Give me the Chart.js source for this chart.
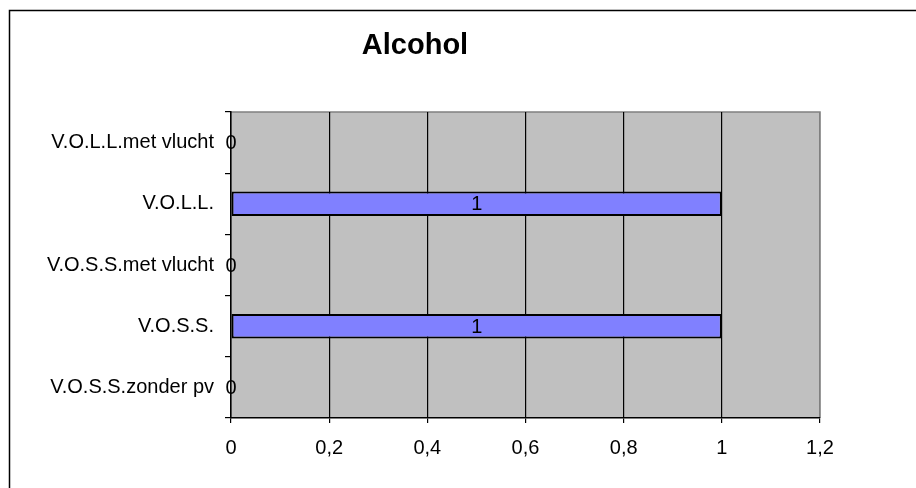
<!DOCTYPE html>
<html>
<head>
<meta charset="utf-8">
<script src="https://cdn.jsdelivr.net/npm/chart.js@4"></script>
<style>
html,body{margin:0;padding:0;background:#fff;}
#wrap{width:916px;height:488px;position:relative;}
</style>
</head>
<body>
<div id="wrap"><canvas id="c" width="916" height="488"></canvas></div>
<script>
const titleText = 'Alcohol';
const categories = ['V.O.L.L.met vlucht', 'V.O.L.L.', 'V.O.S.S.met vlucht', 'V.O.S.S.', 'V.O.S.S.zonder pv'];
const values = [0, 1, 0, 1, 0];
const xTickLabels = ['0', '0,2', '0,4', '0,6', '0,8', '1', '1,2'];

const FONT = '"Liberation Sans", Arial, sans-serif';

const decor = {
  id: 'decor',
  beforeDraw(chart) {
    const {ctx, width, height} = chart;
    const {left, top, right, bottom} = chart.chartArea;
    ctx.save();
    ctx.fillStyle = '#fff';
    ctx.fillRect(0, 0, width, height);
    ctx.fillStyle = '#C0C0C0';
    ctx.fillRect(left, top, right - left, bottom - top);
    ctx.strokeStyle = '#808080';
    ctx.lineWidth = 1.5;
    ctx.beginPath();
    ctx.moveTo(left, top);
    ctx.lineTo(right, top);
    ctx.lineTo(right, bottom);
    ctx.stroke();
    // outer frame (top and left edges visible)
    ctx.strokeStyle = '#000';
    ctx.lineWidth = 1.5;
    ctx.beginPath();
    ctx.moveTo(9.5, height);
    ctx.lineTo(9.5, 10.5);
    ctx.lineTo(width, 10.5);
    ctx.stroke();
    // title
    ctx.fillStyle = '#000';
    ctx.font = 'bold 29px ' + FONT;
    ctx.textAlign = 'center';
    ctx.textBaseline = 'alphabetic';
    ctx.fillText(titleText, 415, 54);
    ctx.restore();
  },
  afterDatasetsDraw(chart) {
    const {ctx} = chart;
    const meta = chart.getDatasetMeta(0);
    ctx.save();
    ctx.fillStyle = '#000';
    ctx.font = '20px ' + FONT;
    ctx.textAlign = 'center';
    ctx.textBaseline = 'middle';
    meta.data.forEach((bar, i) => {
      const x = (bar.x + bar.base) / 2;
      ctx.fillText(String(values[i]).replace('.', ','), x, bar.y + 1);
    });
    ctx.restore();
  }
};

new Chart(document.getElementById('c'), {
  type: 'bar',
  data: {
    labels: categories,
    datasets: [{
      data: values,
      backgroundColor: '#8080FF',
      borderColor: '#000',
      borderWidth: 2,
      borderSkipped: false,
      barPercentage: 0.4,
      categoryPercentage: 1
    }]
  },
  options: {
    indexAxis: 'y',
    responsive: false,
    animation: false,
    devicePixelRatio: 1,
    layout: {padding: {top: 112, right: 96, bottom: 0, left: 0}},
    plugins: {
      legend: {display: false},
      title: {display: false},
      tooltip: {enabled: false}
    },
    scales: {
      x: {
        min: 0,
        max: 1.2,
        ticks: {
          stepSize: 0.2,
          color: '#000',
          font: {family: FONT, size: 20},
          padding: 13,
          maxRotation: 0,
          callback: (v, i) => xTickLabels[i]
        },
        grid: {
          color: (c) => (c.index === xTickLabels.length - 1 ? '#808080' : '#000'),
          tickColor: '#000',
          tickLength: 5,
          lineWidth: 1.2
        },
        border: {color: '#000', width: 1.5},
        afterFit: (s) => { s.height = 70; }
      },
      y: {
        ticks: {
          color: '#000',
          font: {family: FONT, size: 20},
          padding: 11
        },
        grid: {
          drawOnChartArea: false,
          color: '#000',
          tickColor: '#000',
          tickLength: 6,
          lineWidth: 1.2
        },
        border: {color: '#000', width: 1.5},
        afterFit: (s) => { s.width = 231; }
      }
    }
  },
  plugins: [decor]
});
</script>
</body>
</html>
